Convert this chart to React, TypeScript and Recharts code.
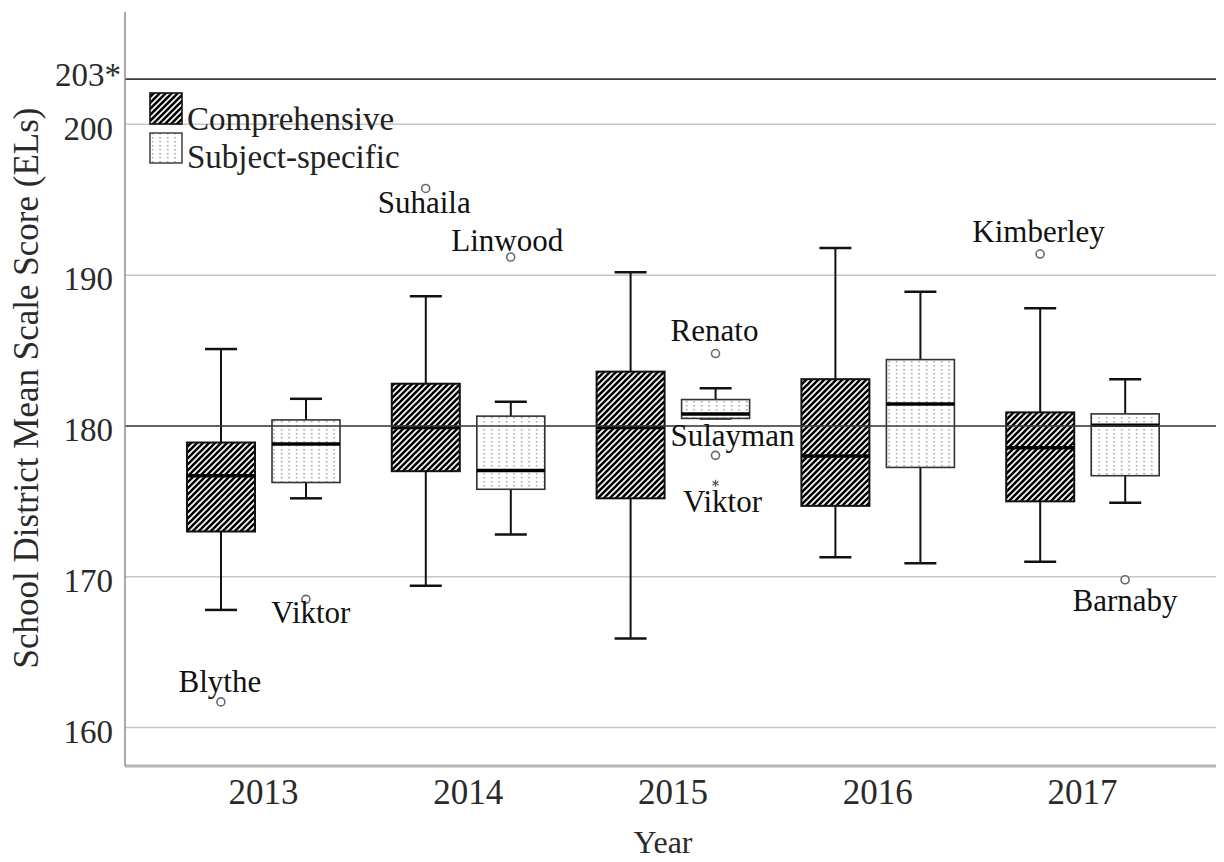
import React from 'react';
import {
  ComposedChart, Bar, Scatter, XAxis, YAxis, CartesianGrid, ReferenceLine, Legend, Label,
} from 'recharts';

// ---------- data ----------
const years = ['2013', '2014', '2015', '2016', '2017'];

const compMin = [167.8, 169.4, 165.9, 171.3, 171.0];
const compQ1 = [173.0, 177.0, 175.2, 174.7, 175.0];
const compMedian = [176.7, 179.9, 179.9, 178.0, 178.55];
const compQ3 = [178.9, 182.8, 183.6, 183.1, 180.9];
const compMax = [185.1, 188.6, 190.2, 191.8, 187.8];

const subjMin = [175.2, 172.8, 180.5, 170.9, 174.9];
const subjQ1 = [176.25, 175.8, 180.5, 177.25, 176.7];
const subjMedian = [178.8, 177.05, 180.8, 181.45, 180.05];
const subjQ3 = [180.4, 180.65, 181.75, 184.4, 180.8];
const subjMax = [181.8, 181.6, 182.5, 188.9, 183.1];

const compOutlierYears = ['2013', '2014', '2017'];
const compOutlierValues = [161.7, 195.75, 191.4];
const compOutlierNames = ['Blythe', 'Suhaila', 'Kimberley'];
const compOutlierKinds = ['o', 'o', 'o'];

const subjOutlierYears = ['2013', '2014', '2015', '2015', '2015', '2017'];
const subjOutlierValues = [168.5, 191.2, 184.8, 178.05, 176.2, 169.8];
const subjOutlierNames = ['Viktor', 'Linwood', 'Renato', 'Sulayman', 'Viktor', 'Barnaby'];
const subjOutlierKinds = ['o', 'o', 'o', 'o', '*', 'o'];

const yTicks = [160, 170, 180, 190, 200, 203];
const gridValues = [160, 170, 180, 190, 200];
const seriesNames = ['Comprehensive', 'Subject-specific'];

// ---------- layout / style ----------
const FONT = '"Liberation Serif", "Times New Roman", Times, serif';
const BAR_SIZE = 68;
const BAR_GAP = 17;
const HALF = (BAR_SIZE + BAR_GAP) / 2;
const compLabelNudges = [[-1, -10], [-1.5, 24.5], [-1.5, -12.5]];
const subjLabelNudges = [[5, 23.5], [-3.5, -6.5], [-1, -13], [17, -9], [7, 29], [0, 31]];

const rows = years.map((year, i) => ({
  year,
  compRange: [compMin[i], compMax[i]],
  subjRange: [subjMin[i], subjMax[i]],
  comp: { min: compMin[i], q1: compQ1[i], median: compMedian[i], q3: compQ3[i], max: compMax[i] },
  subj: { min: subjMin[i], q1: subjQ1[i], median: subjMedian[i], q3: subjQ3[i], max: subjMax[i] },
}));

const compOutliers = compOutlierYears.map((year, i) => ({
  year, value: compOutlierValues[i], name: compOutlierNames[i], kind: compOutlierKinds[i], i,
}));
const subjOutliers = subjOutlierYears.map((year, i) => ({
  year, value: subjOutlierValues[i], name: subjOutlierNames[i], kind: subjOutlierKinds[i], i,
}));

const Patterns = ({ prefix }: { prefix: string }) => (
  <defs>
    <pattern id={`${prefix}-hatch`} patternUnits="userSpaceOnUse" width="6" height="6">
      <rect width="6" height="6" fill="#fff" />
      <path d="M-1,1 L1,-1 M0,6 L6,0 M5,7 L7,5" stroke="#000" strokeWidth="2.6" />
    </pattern>
    <pattern id={`${prefix}-dots`} patternUnits="userSpaceOnUse" width="7.5" height="4">
      <rect width="7.5" height="4" fill="#fff" />
      <rect x="3" y="1" width="1.3" height="1.4" fill="#8a8a8a" />
    </pattern>
  </defs>
);

const makeBoxShape = (kind: 'comp' | 'subj') => (props: any) => {
  const { x, y, width, height, payload } = props;
  const s = payload[kind];
  const top = Math.min(y, y + height);
  const bottom = Math.max(y, y + height);
  const k = (bottom - top) / (s.max - s.min);
  const py = (v: number) => bottom - (v - s.min) * k;
  const cx = x + width / 2;
  const fill = kind === 'comp' ? 'url(#c-hatch)' : 'url(#c-dots)';
  const stroke = kind === 'comp' ? '#111' : '#333';
  const capHalf = 16;
  return (
    <g>
      <line x1={cx} x2={cx} y1={py(s.max)} y2={py(s.q3)} stroke="#111" strokeWidth={2} />
      <line x1={cx} x2={cx} y1={py(s.q1)} y2={py(s.min)} stroke="#111" strokeWidth={2} />
      <line x1={cx - capHalf} x2={cx + capHalf} y1={py(s.max)} y2={py(s.max)} stroke="#111" strokeWidth={2.5} />
      <line x1={cx - capHalf} x2={cx + capHalf} y1={py(s.min)} y2={py(s.min)} stroke="#111" strokeWidth={2.5} />
      <rect x={x} y={py(s.q3)} width={width} height={py(s.q1) - py(s.q3)} fill={fill} stroke={stroke} strokeWidth={kind === 'comp' ? 2 : 1.6} />
      <line x1={x} x2={x + width} y1={py(s.median)} y2={py(s.median)} stroke="#000" strokeWidth={3.5} />
    </g>
  );
};

const makeOutlierShape = (dx: number, nudges: number[][]) => (props: any) => {
  const { cx, cy, payload } = props;
  if (cx == null || cy == null) return <g />;
  const px = cx + dx;
  const [nx, ny] = nudges[payload.i];
  return (
    <g>
      {payload.kind === '*' ? (
        <g stroke="#555" strokeWidth={1.2}>
          <line x1={px} x2={px} y1={cy - 3.5} y2={cy + 3.5} />
          <line x1={px - 3} x2={px + 3} y1={cy - 1.8} y2={cy + 1.8} />
          <line x1={px - 3} x2={px + 3} y1={cy + 1.8} y2={cy - 1.8} />
        </g>
      ) : (
        <circle cx={px} cy={cy} r={4} fill="#fff" stroke="#6a6a6a" strokeWidth={1.6} />
      )}
      <text x={px + nx} y={cy + ny} textAnchor="middle" fontSize={31} fontFamily={FONT} fill="#111">
        {payload.name}
      </text>
    </g>
  );
};

const YTick = (props: any) => {
  const { x, y, payload } = props;
  const v = payload.value;
  const is203 = v === 203;
  return (
    <text x={x + (is203 ? 8 : 0)} y={y + (is203 ? -4.5 : 3.5)} dy="0.355em" textAnchor="end"
      fontSize={33} fontFamily={FONT} fill="#2a2a2a">
      {is203 ? '203*' : String(v)}
    </text>
  );
};

const XTick = (props: any) => {
  const { x, y, payload } = props;
  return (
    <text x={x} y={y} dy="0.71em" textAnchor="middle" fontSize={35} fontFamily={FONT} fill="#2a2a2a">
      {payload.value}
    </text>
  );
};

const LegendContent = () => (
  <svg width={330} height={84} style={{ display: 'block' }}>
    <Patterns prefix="lg" />
    <rect x={1} y={1} width={32} height={31} fill="url(#lg-hatch)" stroke="#111" strokeWidth={1.6} />
    <text x={38} y={37.5} fontSize={33} fontFamily={FONT} fill="#222">{seriesNames[0]}</text>
    <rect x={1} y={41} width={32} height={30} fill="url(#lg-dots)" stroke="#333" strokeWidth={1.4} />
    <text x={38} y={76} fontSize={33} fontFamily={FONT} fill="#222">{seriesNames[1]}</text>
  </svg>
);

const YTitle = (props: any) => {
  const vb = props.viewBox || { x: 0, y: 0, width: 0, height: 0 };
  const cx = vb.x + 30;
  const cy = vb.y + vb.height / 2 - 1;
  return (
    <text x={cx} y={cy} transform={`rotate(-90 ${cx} ${cy})`} textAnchor="middle"
      fontSize={35} fontFamily={FONT} fill="#2a2a2a">
      School District Mean Scale Score (ELs)
    </text>
  );
};

const XTitle = (props: any) => {
  const vb = props.viewBox || { x: 0, y: 0, width: 0, height: 0 };
  return (
    <text x={vb.x + vb.width / 2 - 10} y={vb.y + vb.height - 9} textAnchor="middle"
      fontSize={32} fontFamily={FONT} fill="#2a2a2a">
      Year
    </text>
  );
};

export default function App() {
  return (
    <div style={{ width: 1216, height: 854, position: 'relative', background: '#fff' }}>
      <ComposedChart
        width={1216}
        height={854}
        data={rows}
        margin={{ top: 4, right: 3, left: 0, bottom: 0 }}
        barSize={BAR_SIZE}
        barGap={BAR_GAP}
        style={{ fontFamily: FONT }}
      >
        <Patterns prefix="c" />
        <CartesianGrid horizontal vertical={false} horizontalValues={gridValues} stroke="#c6c6c6" strokeWidth={1.5} />
        <XAxis
          dataKey="year"
          type="category"
          allowDuplicatedCategory={false}
          padding={{ left: 36, right: 36 }}
          height={96}
          axisLine={{ stroke: '#b4b4b4', strokeWidth: 3 }}
          tickLine={false}
          tickSize={6}
          tickMargin={7}
          tick={<XTick />}
          interval={0}
        >
          <Label content={<XTitle />} />
        </XAxis>
        <YAxis
          type="number"
          domain={[157.45, 207.45]}
          allowDataOverflow
          ticks={yTicks}
          width={117}
          axisLine={{ stroke: '#8c8c8c', strokeWidth: 1.5 }}
          tickLine={false}
          tickSize={6}
          tickMargin={6}
          tick={<YTick />}
        >
          <Label content={<YTitle />} />
        </YAxis>
        <Legend
          layout="vertical"
          align="center"
          verticalAlign="middle"
          content={<LegendContent />}
          wrapperStyle={{ position: 'absolute', left: 141, top: 84, width: 330, height: 84 }}
        />
        <Bar dataKey="compRange" name={seriesNames[0]} shape={makeBoxShape('comp')} isAnimationActive={false} />
        <Bar dataKey="subjRange" name={seriesNames[1]} shape={makeBoxShape('subj')} isAnimationActive={false} />
        <ReferenceLine y={180} stroke="#3c3c3c" strokeWidth={1.6} />
        <ReferenceLine y={203} stroke="#3c3c3c" strokeWidth={1.6} />
        <Scatter data={compOutliers} dataKey="value" shape={makeOutlierShape(-HALF, compLabelNudges)} isAnimationActive={false} />
        <Scatter data={subjOutliers} dataKey="value" shape={makeOutlierShape(HALF, subjLabelNudges)} isAnimationActive={false} />
      </ComposedChart>
    </div>
  );
}
